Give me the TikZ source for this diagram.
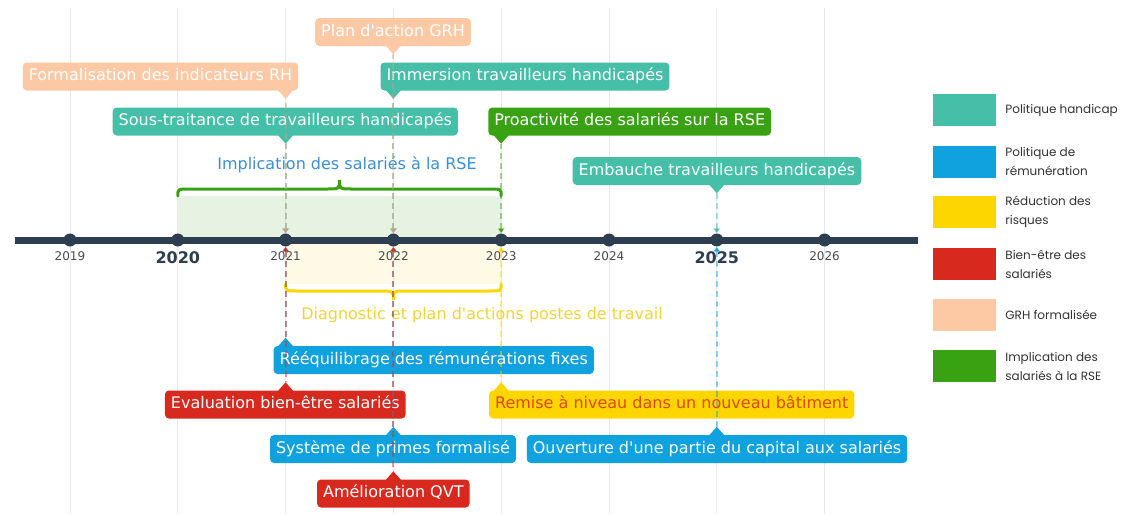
\documentclass[tikz,border=0pt]{standalone}
\usepackage{fontspec}
\setmainfont{DejaVu Sans}
\newfontfamily\legendfont{Poppins}
\usetikzlibrary{arrows.meta,calc,positioning}

\definecolor{handi}{HTML}{45BFA8}
\definecolor{remun}{HTML}{10A2DE}
\definecolor{risk}{HTML}{FDD600}
\definecolor{bienetre}{HTML}{D8291F}
\definecolor{grh}{HTML}{FCC9A4}
\definecolor{rse}{HTML}{38A213}
\definecolor{axisc}{HTML}{2C3E50}
\definecolor{rselbl}{HTML}{3B8FD3}
\definecolor{risklbl}{HTML}{F2D43A}
\definecolor{remisetxt}{HTML}{E2470F}

% flag above the axis: [options]{name}{colour}{year}{centre}{text}
\newcommand{\flagdown}[6][]{%
  \node[flag, fill=#3, #1] (#2) at (#5) {#6};
  \fill[#3] ($(#4 |- #2.south)+(-8,-1)$) -- ($(#4 |- #2.south)+(0,8)$) coordinate (#2-tip)
    -- ($(#4 |- #2.south)+(8,-1)$) -- cycle;
}
% flag below the axis
\newcommand{\flagup}[6][]{%
  \node[flag, fill=#3, #1] (#2) at (#5) {#6};
  \fill[#3] ($(#4 |- #2.north)+(-8,1)$) -- ($(#4 |- #2.north)+(0,-8)$) coordinate (#2-tip)
    -- ($(#4 |- #2.north)+(8,1)$) -- cycle;
}
\newcommand{\ap}{\textquotesingle}

\begin{document}
\begin{tikzpicture}[x=1pt, y=-1pt, >={Triangle[width=7pt,length=5pt]},
    flag/.style={rounded corners=4pt, text=white, font=\fontsize{16}{19}\selectfont,
      minimum height=28pt, inner xsep=6pt, text height=12pt, text depth=3.5pt},
    link/.style={dash pattern=on 6pt off 4pt, line width=2pt, draw=#1, draw opacity=.45, <-},
    yeardot/.style={circle, fill=axisc, inner sep=0pt, minimum size=13pt},
    yearlbl/.style={text=black!70, font=\fontsize{12}{14}\selectfont, inner sep=0pt},
    yearbig/.style={text=axisc, font=\bfseries\fontsize{16}{18}\selectfont, inner sep=0pt},
    yeargrid/.style={black!9, line width=1pt},
    brace/.style={line width=3pt, line cap=round},
    legbox/.style={minimum width=63pt, minimum height=32pt, inner sep=0pt},
    leglbl/.style={anchor=west, align=left, inner sep=0pt, text=black!80,
      font=\legendfont\fontsize{12}{19}\selectfont}]

    % background
    \fill[white] (0,0) rectangle (1125,514);

    % year grid
    \draw[yeargrid] (70,8) -- (70,514);
    \draw[yeargrid] (177.8,8) -- (177.8,514);
    \draw[yeargrid] (285.6,8) -- (285.6,514);
    \draw[yeargrid] (393.4,8) -- (393.4,514);
    \draw[yeargrid] (501.2,8) -- (501.2,514);
    \draw[yeargrid] (609,8) -- (609,514);
    \draw[yeargrid] (716.8,8) -- (716.8,514);
    \draw[yeargrid] (824.6,8) -- (824.6,514);

    % periods
    \fill[rse, fill opacity=.12] (177.8,196) rectangle (501.2,240);
    \fill[risk, fill opacity=.1] (285.6,240) rectangle (501.2,284);

    \draw[brace, rse] (177.8,196) .. controls (177.8,189) .. (190,189) -- (327,189)
      .. controls (339.5,189) .. (339.5,180) .. controls (339.5,189) .. (352,189)
      -- (489,189) .. controls (501.2,189) .. (501.2,196);
    \node[text=rselbl, font=\fontsize{16}{19}\selectfont] (implbl) at (347,165) {Implication des salariés à la RSE};

    \draw[brace, risk] (285.6,284) .. controls (285.6,291) .. (298,291) -- (381,291)
      .. controls (393.4,291) .. (393.4,300) .. controls (393.4,291) .. (406,291)
      -- (489,291) .. controls (501.2,291) .. (501.2,284);
    \node[text=risklbl, font=\fontsize{16}{19}\selectfont] (diaglbl) at (482,315) {Diagnostic et plan d\ap actions postes de travail};

    % axis
    \draw[axisc, line width=7pt] (15,240) -- (918,240);
    \node[yeardot] (y2019) at (70,240) {};
    \node[yeardot] (y2020) at (177.8,240) {};
    \node[yeardot] (y2021) at (285.6,240) {};
    \node[yeardot] (y2022) at (393.4,240) {};
    \node[yeardot] (y2023) at (501.2,240) {};
    \node[yeardot] (y2024) at (609,240) {};
    \node[yeardot] (y2025) at (716.8,240) {};
    \node[yeardot] (y2026) at (824.6,240) {};

    \node[yearlbl] (l2019) at (70,256) {2019};
    \node[yearbig] (l2020) at (177.8,258) {2020};
    \node[yearlbl] (l2021) at (285.6,256) {2021};
    \node[yearlbl] (l2022) at (393.4,256) {2022};
    \node[yearlbl] (l2023) at (501.2,256) {2023};
    \node[yearlbl] (l2024) at (609,256) {2024};
    \node[yearbig] (l2025) at (716.8,258) {2025};
    \node[yearlbl] (l2026) at (824.6,256) {2026};

    % flags above
    \flagdown{pgrh}{grh}{y2022}{393,32}{Plan d\ap action GRH}
    \flagdown{frh}{grh}{y2021}{160.5,76.5}{Formalisation des indicateurs RH}
    \flagdown{imm}{handi}{y2022}{525,76.5}{Immersion travailleurs handicapés}
    \flagdown{sst}{handi}{y2021}{285.3,121.5}{Sous-traitance de travailleurs handicapés}
    \flagdown{pro}{rse}{y2023}{629.7,121.5}{Proactivité des salariés sur la RSE}
    \flagdown{emb}{handi}{y2025}{717,171}{Embauche travailleurs handicapés}

    % flags below
    \flagup{reeq}{remun}{y2021}{433.7,360}{Rééquilibrage des rémunérations fixes}
    \flagup{evb}{bienetre}{y2021}{285.3,404.5}{Evaluation bien-être salariés}
    \flagup[text=remisetxt]{rem}{risk}{y2023}{671.7,404.5}{Remise à niveau dans un nouveau bâtiment}
    \flagup{sys}{remun}{y2022}{393,449}{Système de primes formalisé}
    \flagup{ouv}{remun}{y2025}{717,449}{Ouverture d\ap une partie du capital aux salariés}
    \flagup{qvt}{bienetre}{y2022}{393.3,493.5}{Amélioration QVT}

    % links to the axis
    \draw[link=handi] (y2021) -- (sst-tip);
    \draw[link=grh!80!black] (y2021) -- (frh-tip);
    \draw[link=handi] (y2022) -- (imm-tip);
    \draw[link=grh!80!black] (y2022) -- (pgrh-tip);
    \draw[link=rse] (y2023) -- (pro-tip);
    \draw[link=handi] (y2025) -- (emb-tip);
    \draw[link=remun] (y2021) -- (reeq-tip);
    \draw[link=bienetre] (y2021) -- (evb-tip);
    \draw[link=remun] (y2022) -- (sys-tip);
    \draw[link=bienetre] (y2022) -- (qvt-tip);
    \draw[link=risk] (y2023) -- (rem-tip);
    \draw[link=remun] (y2025) -- (ouv-tip);

    % legend
    \node[legbox, fill=handi] (k1) at (964.5,110) {};
    \node[legbox, fill=remun] (k2) at (964.5,161.5) {};
    \node[legbox, fill=risk] (k3) at (964.5,212) {};
    \node[legbox, fill=bienetre] (k4) at (964.5,264) {};
    \node[legbox, fill=grh] (k5) at (964.5,315) {};
    \node[legbox, fill=rse] (k6) at (964.5,366) {};
    \node[leglbl, right=9pt of k1] (k1l) {Politique handicap};
    \node[leglbl, right=9pt of k2] (k2l) {Politique de\\rémunération};
    \node[leglbl, right=9pt of k3] (k3l) {Réduction des\\risques};
    \node[leglbl, right=9pt of k4] (k4l) {Bien-être des\\salariés};
    \node[leglbl, right=9pt of k5] (k5l) {GRH formalisée};
    \node[leglbl, right=9pt of k6] (k6l) {Implication des\\salariés à la RSE};

\end{tikzpicture}
\end{document}
